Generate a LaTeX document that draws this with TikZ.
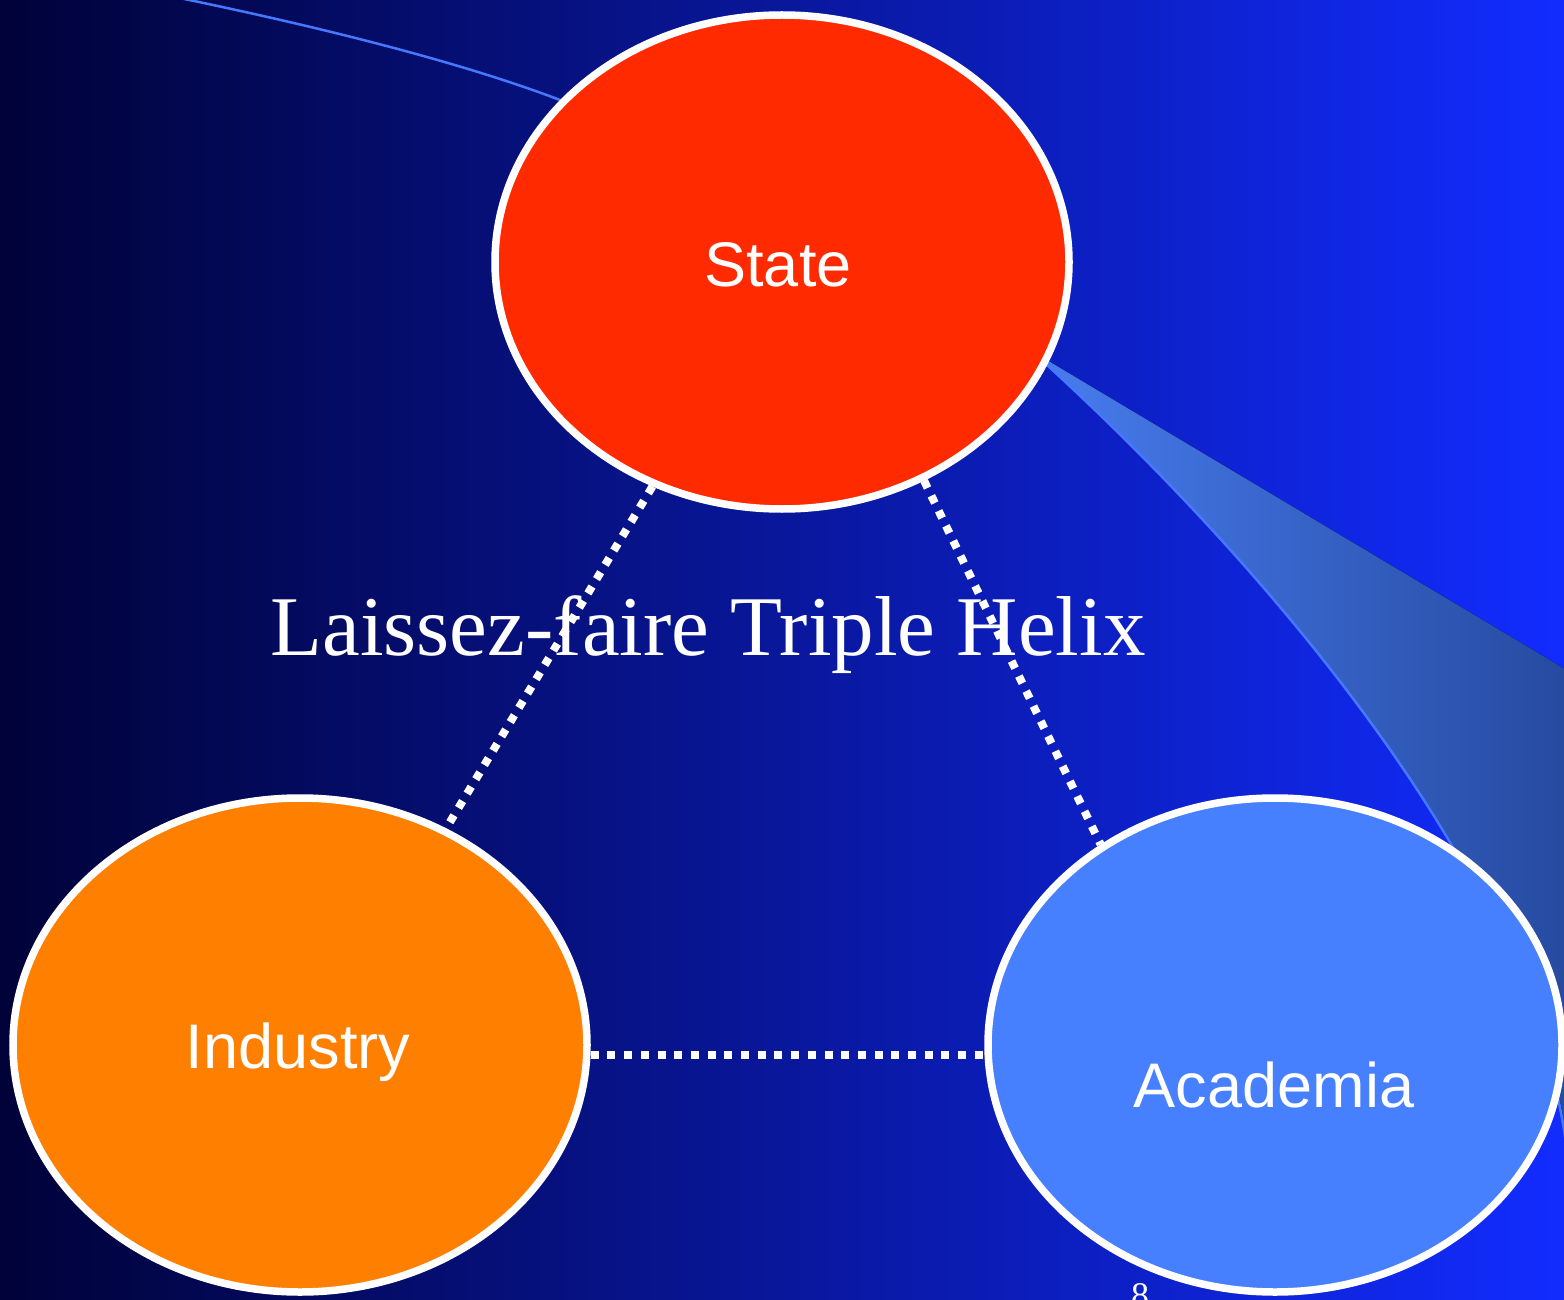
\documentclass[tikz,border=0pt]{standalone}
\usepackage{fontspec}
\setmainfont{Liberation Serif}
\newfontfamily\arialfont{Liberation Sans}
\usetikzlibrary{shapes.geometric}
\definecolor{bgleft}{RGB}{0,2,56}
\definecolor{bgright}{RGB}{18,44,255}
\definecolor{stateC}{RGB}{255,42,0}
\definecolor{industryC}{RGB}{255,127,0}
\definecolor{academiaC}{RGB}{71,128,255}
\definecolor{swooshL}{RGB}{72,125,240}
\definecolor{swooshR}{RGB}{38,74,160}
\definecolor{helixline}{RGB}{70,120,255}
\tikzset{
  blob/.style={ellipse, draw=white, line width=7.5pt, minimum width=574pt, minimum height=494pt, inner sep=0pt},
  sidelabel/.style={text=white, font=\arialfont\fontsize{63}{70}\selectfont, anchor=base, inner sep=0pt},
  linkline/.style={draw=white, line width=8pt, dash pattern=on 8pt off 8.7pt},
}
\begin{document}
\begin{tikzpicture}[x=1pt,y=-1pt]
\useasboundingbox (0,0) rectangle (1564,1300);
\clip (0,0) rectangle (1564,1300);
% background
\fill[left color=bgleft, right color=bgright] (0,0) rectangle (1564,1300);
% swoosh wedge
\fill[left color=swooshL, right color=swooshR]
  (1030,350) -- (1570,672) -- (1570,1180)
  .. controls (1560,900) and (1260,560) .. (1047,365) -- cycle;
% helix line
\draw[helixline, line width=2.5pt]
  (150,-8) .. controls (290,20) and (450,58) .. (560,100)
  .. controls (700,163) and (900,240) .. (1047,365)
  .. controls (1260,560) and (1560,900) .. (1570,1190);
% nodes
\node[blob, fill=stateC] (state) at (782,262) {};
\node[blob, fill=industryC] (industry) at (300,1045) {};
\node[blob, fill=academiaC] (academia) at (1275,1045) {};
\node[sidelabel] (statelbl) at (778,287) {State};
\node[sidelabel] (industrylbl) at (298,1068) {Industry};
\node[sidelabel] (academialbl) at (1274,1107) {Academia};
% links
\draw[linkline] (state.-120) -- (industry.56);
\draw[linkline] (state.-57) -- (academia.131);
\draw[linkline] ([yshift=-10pt]industry.east) -- ([yshift=-10pt]academia.west);
% title
\node[text=white, font=\fontsize{85}{90}\selectfont, anchor=base, inner sep=0pt] (title) at (708,655) {Laissez-faire Triple Helix};
\node[text=white, font=\fontsize{36}{40}\selectfont, anchor=base, inner sep=0pt] (pagenum) at (1140,1307) {8};
\end{tikzpicture}
\end{document}
